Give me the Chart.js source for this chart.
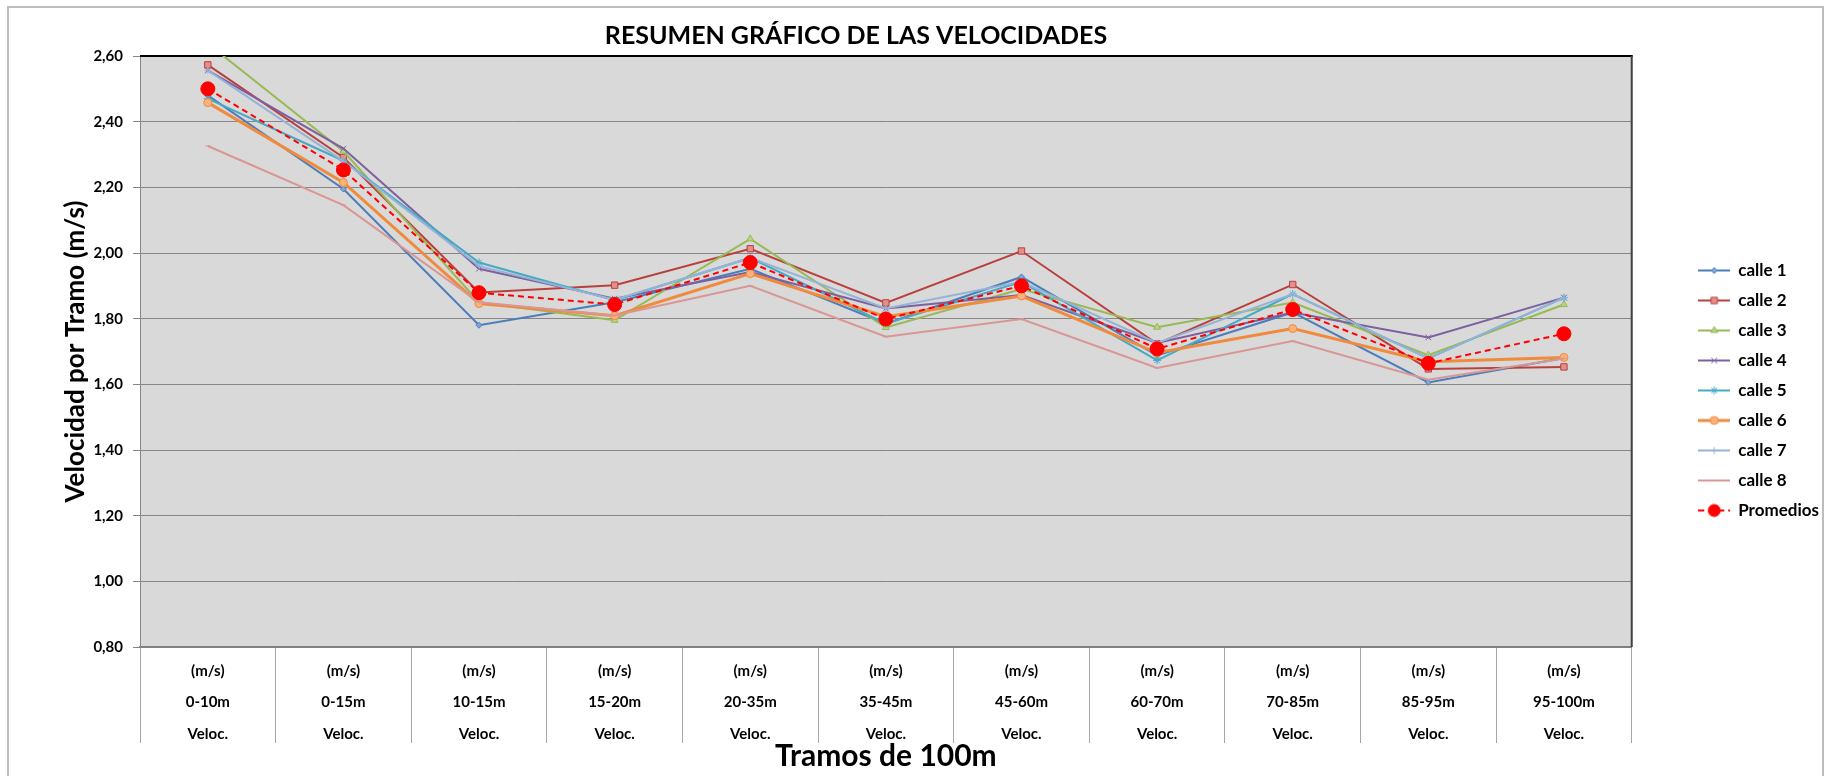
<!DOCTYPE html>
<html>
<head>
<meta charset="utf-8">
<script src="https://cdn.jsdelivr.net/npm/chart.js@4"></script>
<style>
  body { margin: 0; background: #fff; }
  #wrap { width: 1829px; height: 776px; }
</style>
</head>
<body>
<div id="wrap"><canvas id="chart" width="1829" height="776"></canvas></div>
<script>
// Tramos (categorias del eje X)
const tramos = ['0-10m', '0-15m', '10-15m', '15-20m', '20-35m', '35-45m', '45-60m', '60-70m', '70-85m', '85-95m', '95-100m'];

// Velocidades por calle (m/s)
const calle1 = [2.48, 2.195, 1.78, 1.85, 1.952, 1.785, 1.927, 1.688, 1.819, 1.606, 1.68];
const calle2 = [2.573, 2.291, 1.88, 1.902, 2.013, 1.848, 2.006, 1.723, 1.904, 1.647, 1.653];
const calle3 = [2.638, 2.31, 1.85, 1.795, 2.043, 1.773, 1.89, 1.774, 1.849, 1.689, 1.843];
const calle4 = [2.556, 2.318, 1.952, 1.861, 1.942, 1.831, 1.872, 1.726, 1.819, 1.743, 1.864];
const calle5 = [2.47, 2.281, 1.971, 1.856, 1.985, 1.785, 1.912, 1.673, 1.875, 1.679, 1.864];
const calle6 = [2.458, 2.215, 1.846, 1.809, 1.937, 1.806, 1.869, 1.696, 1.77, 1.669, 1.682];
const calle7 = [2.556, 2.28, 1.96, 1.858, 1.985, 1.831, 1.912, 1.726, 1.875, 1.679, 1.864];
const calle8 = [2.326, 2.146, 1.85, 1.81, 1.90, 1.745, 1.799, 1.65, 1.732, 1.614, 1.679];
const promedios = [2.50, 2.253, 1.879, 1.843, 1.971, 1.799, 1.90, 1.708, 1.828, 1.664, 1.754];

// Eje Y
const yMin = 0.8, yMax = 2.6, yStep = 0.2;

const FONT = 'Lato, "Open Sans", sans-serif';
const fmt = v => Number(v).toFixed(2).replace('.', ',');

// estilo de cada serie
const series = [
  { label: 'calle 1', data: calle1, color: '#4a7ebb', fill: '#7ea6d8', style: 'rectRot', r: 3, w: 2 },
  { label: 'calle 2', data: calle2, color: '#b8403d', fill: '#e58f8c', style: 'rect', r: 4.5, w: 2 },
  { label: 'calle 3', data: calle3, color: '#98b954', fill: '#b9d386', style: 'triangle', r: 4, w: 2 },
  { label: 'calle 4', data: calle4, color: '#7d60a0', fill: '#7d60a0', style: 'crossRot', r: 4, w: 2 },
  { label: 'calle 5', data: calle5, color: '#46aac5', fill: '#46aac5', style: 'star', r: 4, w: 2 },
  { label: 'calle 6', data: calle6, color: '#f08a3c', fill: '#f9b27c', style: 'circle', r: 4, w: 3 },
  { label: 'calle 7', data: calle7, color: '#95b3d7', fill: '#95b3d7', style: 'cross', r: 3.5, w: 2 },
  { label: 'calle 8', data: calle8, color: '#d99694', fill: '#d99694', style: 'line', r: 2.5, w: 2 },
  { label: 'Promedios', data: promedios, color: '#ff0000', fill: '#ff0000', style: 'circle', r: 7, w: 2, dash: [6, 4] }
];

// icono de leyenda: linea + marcador
function legendIcon(s) {
  const c = document.createElement('canvas');
  c.width = 32; c.height = 16;
  const g = c.getContext('2d');
  g.strokeStyle = s.color;
  g.lineWidth = s.w;
  g.setLineDash(s.dash || []);
  g.beginPath(); g.moveTo(0, 8); g.lineTo(32, 8); g.stroke();
  g.setLineDash([]);
  g.fillStyle = s.fill;
  g.lineWidth = 1;
  Chart.helpers.drawPoint(g, { pointStyle: s.style, radius: Math.min(s.r, 6), rotation: 0, borderWidth: 1 }, 16, 8);
  return c;
}

const datasets = series.map((s, i) => ({
  label: s.label,
  data: s.data,
  borderColor: s.color,
  backgroundColor: s.fill,
  borderWidth: s.w,
  borderDash: s.dash || [],
  pointStyle: s.style,
  pointRadius: s.r,
  pointBorderColor: s.color,
  pointBackgroundColor: s.fill,
  pointBorderWidth: 1,
  tension: 0,
  order: series.length - i
}));

const decor = {
  id: 'decor',
  beforeDraw(chart) {
    const { ctx, chartArea: a } = chart;
    ctx.save();
    ctx.fillStyle = '#fff';
    ctx.fillRect(0, 0, chart.width, chart.height);
    ctx.fillStyle = '#d9d9d9';
    ctx.fillRect(a.left, a.top, a.right - a.left, a.bottom - a.top);
    ctx.strokeStyle = '#bdbdbd';
    ctx.lineWidth = 2;
    ctx.strokeRect(8, 7, 1815, 820);
    ctx.restore();
  },
  beforeDatasetsDraw(chart) {
    const { ctx, chartArea: a } = chart;
    ctx.save();
    ctx.strokeStyle = '#000';
    ctx.lineWidth = 2;
    ctx.beginPath(); ctx.moveTo(a.left, a.top); ctx.lineTo(a.right + 1, a.top); ctx.stroke();
    ctx.strokeStyle = '#404040';
    ctx.beginPath(); ctx.moveTo(a.right, a.top); ctx.lineTo(a.right, a.bottom); ctx.stroke();
    ctx.restore();
  },
  afterDraw(chart) {
    const ctx = chart.ctx;
    ctx.save();
    ctx.fillStyle = '#000';
    ctx.font = 'bold 25px ' + FONT;
    ctx.textAlign = 'center';
    ctx.textBaseline = 'middle';
    ctx.fillText('RESUMEN GRÁFICO DE LAS VELOCIDADES', 856, 36);
    ctx.restore();
  }
};

new Chart(document.getElementById('chart'), {
  type: 'line',
  data: {
    labels: tramos.map(t => ['(m/s)', t, 'Veloc.']),
    datasets
  },
  plugins: [decor],
  options: {
    responsive: false,
    animation: false,
    layout: { padding: { top: 56, right: 0, bottom: 0, left: 0 } },
    plugins: {
      title: { display: false },
      tooltip: { enabled: false },
      legend: {
        position: 'right',
        align: 'start',
        title: { display: true, text: ' ', font: { size: 10 }, padding: { top: 181, bottom: 0 } },
        labels: {
          usePointStyle: true,
          pointStyleWidth: 31,
          padding: 13,
          color: '#000',
          font: { family: FONT, size: 17, weight: 'bold' },
          generateLabels: chart => chart.data.datasets.map((ds, i) => ({
            text: ds.label,
            pointStyle: legendIcon(series[i]),
            fillStyle: ds.borderColor,
            strokeStyle: ds.borderColor,
            lineWidth: 0,
            hidden: false,
            datasetIndex: i,
            fontColor: '#000'
          }))
        }
      }
    },
    scales: {
      x: {
        offset: true,
        grid: { offset: true, drawOnChartArea: false, tickLength: 96, color: '#a6a6a6' },
        border: { color: '#808080', width: 2 },
        ticks: {
          padding: -88,
          autoSkip: false,
          maxRotation: 0,
          color: '#000',
          font: { family: FONT, size: 15, weight: 'bold', lineHeight: 2.1 }
        },
        title: {
          display: true,
          text: 'Tramos de 100m',
          color: '#000',
          font: { family: FONT, size: 30, weight: 'bold' },
          padding: { top: 0, bottom: 2 }
        },
        afterFit: s => { s.height = 129; }
      },
      y: {
        min: yMin,
        max: yMax,
        ticks: {
          stepSize: yStep,
          callback: v => fmt(v),
          padding: 10,
          color: '#000',
          font: { family: FONT, size: 15, weight: 'bold' }
        },
        grid: { color: '#868686', tickLength: 7 },
        border: { color: '#868686' },
        title: {
          display: true,
          text: 'Velocidad por Tramo (m/s)',
          color: '#000',
          font: { family: FONT, size: 26, weight: 'bold' },
          padding: { top: 60, bottom: 0 }
        },
        afterFit: s => { s.width = 140; }
      },
      y2: {
        position: 'right',
        display: true,
        grid: { display: false },
        ticks: { display: false },
        border: { display: false },
        afterFit: s => { s.width = 54; }
      }
    }
  }
});
</script>
</body>
</html>
